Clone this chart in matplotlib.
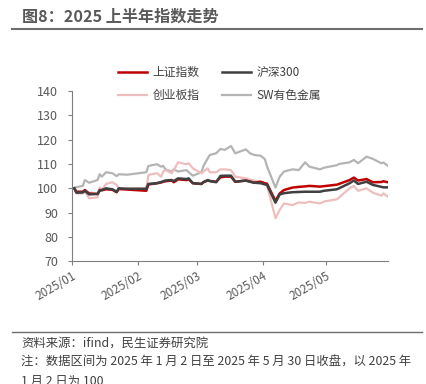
import matplotlib
matplotlib.use("Agg")
import matplotlib.pyplot as plt
import matplotlib.dates as mdates
import pandas as pd
from matplotlib.lines import Line2D

plt.rcParams['font.family'] = ['Noto Sans CJK SC', 'DejaVu Sans']

# 数据
dates = ["2025-01-02", "2025-01-03", "2025-01-06", "2025-01-07", "2025-01-09", "2025-01-13",
         "2025-01-14", "2025-01-15", "2025-01-17", "2025-01-20", "2025-01-22", "2025-01-23",
         "2025-01-27", "2025-02-05", "2025-02-06", "2025-02-10", "2025-02-12", "2025-02-13",
         "2025-02-14", "2025-02-17", "2025-02-18", "2025-02-20", "2025-02-24", "2025-02-25",
         "2025-02-27", "2025-03-03", "2025-03-04", "2025-03-06", "2025-03-07", "2025-03-10",
         "2025-03-12", "2025-03-14", "2025-03-17", "2025-03-19", "2025-03-24", "2025-03-26",
         "2025-03-28", "2025-03-31", "2025-04-02", "2025-04-03", "2025-04-07", "2025-04-09",
         "2025-04-11", "2025-04-15", "2025-04-18", "2025-04-21", "2025-04-23", "2025-04-28",
         "2025-04-30", "2025-05-06", "2025-05-07", "2025-05-12", "2025-05-14", "2025-05-16",
         "2025-05-20", "2025-05-23", "2025-05-27", "2025-05-28", "2025-05-30"]

sh_index = [100, 98.6, 98.6, 99.3, 97.9, 97.7, 99.3, 99.2, 99.6, 99.4, 98.4, 99.7,
            99.5, 99.0, 101.6, 102.1, 102.4, 102.7, 102.9, 103.2, 102.5, 103.7, 103.4, 103.7,
            102.1, 101.8, 102.5, 103.2, 103.0, 102.7, 104.5, 104.8, 104.8, 102.7, 103.2, 102.8,
            102.3, 102.7, 102.1, 101.9, 94.8, 97.9, 99.3, 100.3, 100.6, 100.8, 101.0, 100.7,
            100.9, 101.5, 101.8, 103.4, 104.4, 103.2, 103.8, 102.5, 102.6, 102.9, 102.5]

hs300 = [100, 98.2, 98.3, 99.0, 97.5, 97.7, 99.0, 99.3, 100.0, 99.6, 98.6, 100.0,
         99.8, 99.8, 101.8, 102.1, 102.6, 102.9, 103.2, 103.4, 103.0, 104.1, 103.8, 104.1,
         102.1, 101.8, 102.6, 103.4, 103.0, 102.5, 105.1, 105.2, 105.2, 102.7, 103.2, 102.7,
         102.3, 102.1, 101.6, 101.4, 94.1, 97.5, 98.0, 98.4, 98.5, 98.6, 98.6, 98.6,
         99.0, 99.6, 100.0, 102.1, 103.2, 101.8, 102.7, 101.4, 100.6, 100.4, 100.4]

cyb = [100, 97.9, 97.9, 98.6, 95.9, 96.3, 100.4, 99.3, 101.8, 102.5, 101.4, 100.0,
       100.0, 100.0, 105.5, 106.2, 104.8, 106.9, 107.5, 106.2, 107.5, 110.7, 109.9, 110.3,
       108.2, 106.2, 106.9, 108.2, 106.6, 106.6, 107.8, 107.8, 107.5, 104.8, 104.1, 103.6,
       103.2, 102.7, 101.8, 101.3, 87.7, 91.1, 93.8, 93.1, 94.2, 94.0, 94.5, 93.8,
       94.6, 95.5, 96.2, 100.0, 101.0, 99.0, 100.0, 98.2, 97.0, 97.9, 96.6]

sw_metal = [100, 100.5, 101.0, 103.4, 102.3, 103.4, 105.8, 104.8, 106.6, 106.2, 105.0, 105.8,
            105.6, 106.6, 109.2, 109.9, 108.9, 109.2, 107.8, 106.9, 107.8, 106.9, 107.5, 106.6,
            105.2, 106.6, 109.2, 112.3, 113.7, 114.4, 116.2, 115.8, 117.4, 114.4, 116.0, 114.4,
            113.7, 113.4, 112.0, 109.0, 100.3, 104.8, 106.9, 107.8, 107.5, 110.7, 108.9, 107.8,
            108.5, 109.5, 110.0, 110.7, 111.7, 110.3, 113.0, 112.1, 110.3, 110.6, 109.3]

x = pd.to_datetime(dates)

fig = plt.figure(figsize=(4.27, 3.84), dpi=100)
ax = fig.add_axes([0.169, 0.3195, 0.739, 0.4435])

# 绘制四条指数
l_sw, = ax.plot(x, sw_metal, color='#B4B4B4', lw=1.6)
l_cy, = ax.plot(x, cyb, color='#EEBDBD', lw=1.6)
l_sh, = ax.plot(x, sh_index, color='#C00000', lw=1.8)
l_hs, = ax.plot(x, hs300, color='#404040', lw=1.8)

ax.set_ylim(70, 140)
ax.set_yticks(range(70, 141, 10))
ax.set_xlim(pd.Timestamp("2025-01-01"), pd.Timestamp("2025-05-30"))
ax.xaxis.set_major_locator(mdates.MonthLocator())
ax.xaxis.set_major_formatter(mdates.DateFormatter('%Y/%m'))

for s in ['top', 'right']:
    ax.spines[s].set_visible(False)
for s in ['left', 'bottom']:
    ax.spines[s].set_color('#7F7F7F')
    ax.spines[s].set_linewidth(0.8)
ax.tick_params(axis='both', colors='#7F7F7F', labelcolor='#595959', labelsize=9,
               length=3, width=0.8, direction='out')
ax.tick_params(axis='y', pad=7)
ax.tick_params(axis='x', labelsize=8.5, pad=3)
plt.setp(ax.get_xticklabels(), rotation=30, ha='right', rotation_mode='anchor')

# 图例：两行两列（按列填充）
handles = [l_sh, l_cy, l_hs, l_sw]
labels = ['上证指数', '创业板指', '沪深300', 'SW有色金属']
fig.legend(handles, labels, ncol=2, loc='center', bbox_to_anchor=(0.514, 1 - 84 / 384),
           frameon=False, fontsize=8.5, handlelength=2.5, columnspacing=1.9,
           labelspacing=0.9, labelcolor='#404040', handletextpad=0.45)

# 标题和分隔线
fig.text(22 / 427, 1 - 17 / 384, '图8：2025 上半年指数走势', fontsize=11.6, fontweight='bold',
         color='#595959', va='center', ha='left')
fig.add_artist(Line2D([12 / 427, 422 / 427], [1 - 29 / 384, 1 - 29 / 384],
                      color='#6E6E6E', lw=1.5))
fig.add_artist(Line2D([12 / 427, 422 / 427], [1 - 332 / 384, 1 - 332 / 384],
                      color='#6E6E6E', lw=1.0))

# 注释
fig.text(21 / 427, 1 - 343 / 384, '资料来源：ifind，民生证券研究院', fontsize=8.9,
         color='#404040', va='center', ha='left')
fig.text(21 / 427, 1 - 362 / 384, '注：数据区间为 2025 年 1 月 2 日至 2025 年 5 月 30 日收盘，以 2025 年',
         fontsize=8.9, color='#404040', va='center', ha='left')
fig.text(21 / 427, 1 - 381 / 384, '1 月 2 日为 100', fontsize=8.9,
         color='#404040', va='center', ha='left')

fig.savefig('out.png', dpi=100)
